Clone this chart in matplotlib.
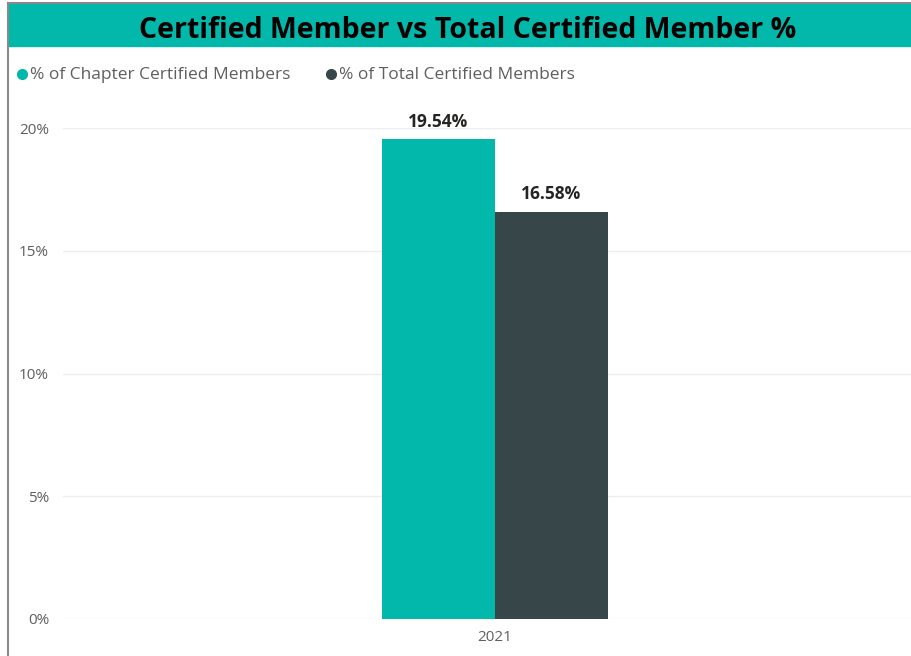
import matplotlib
matplotlib.use("Agg")
import matplotlib.pyplot as plt
from matplotlib.lines import Line2D
from matplotlib.patches import Rectangle

plt.rcParams['font.family'] = ['Open Sans', 'DejaVu Sans']

categories = ['2021']
series_names = ['% of Chapter Certified Members', '% of Total Certified Members']
values = [19.54, 16.58]
colors = ['#01B8AA', '#374649']
yticks = [0, 5, 10, 15, 20]
ytick_labels = ['0%', '5%', '10%', '15%', '20%']

W, H = 911, 656
fig = plt.figure(figsize=(W / 100, H / 100), dpi=100)

# frame + title band
fig.add_artist(Line2D([8 / W, 8 / W], [0, 1 - 3 / H], color='#8a8a8a', lw=1.5))
fig.add_artist(Line2D([8 / W, 1], [1 - 3 / H, 1 - 3 / H], color='#8a8a8a', lw=1.5))
fig.add_artist(Rectangle((9 / W, 1 - 46 / H), 1 - 9 / W, 42 / H,
                         transform=fig.transFigure, color='#01B8AA', zorder=0))
fig.text(468 / W, 1 - 30 / H, 'Certified Member vs Total Certified Member %',
         ha='center', va='center', fontsize=20.5, fontweight='bold', color='#000000')

# legend
lx = [22, 331]
for x, name, c in zip(lx, series_names, colors):
    fig.add_artist(Line2D([x / W], [1 - 74 / H], marker='o', markersize=7,
                          color=c, linestyle='none'))
    fig.text((x + 8) / W, 1 - 75 / H, name, ha='left', va='center',
             fontsize=12.5, color='#605E5C')

ax = fig.add_axes([63 / W, 37 / H, 848 / W, 491 / H])
ax.set_xlim(-0.509, 0.491)
ax.set_ylim(0, 20)
bw = 113 / 848
xs = [-bw / 2, bw / 2]
for x, v, c in zip(xs, values, colors):
    ax.bar(x, v, width=bw, color=c, zorder=3, clip_on=False)
    ax.text(x, v + 0.35, f'{v:.2f}%', ha='center', va='bottom',
            fontsize=12.5, fontweight='bold', color='#252423', clip_on=False)

ax.set_yticks(yticks)
ax.set_yticklabels(ytick_labels, fontsize=11, color='#605E5C')
ax.set_xticks([0])
ax.set_xticklabels(categories, fontsize=11, color='#605E5C')
ax.tick_params(length=0, pad=8)
ax.tick_params(axis='y', pad=10)
ax.grid(axis='y', color='#EDEDED', lw=1)
ax.set_axisbelow(True)
for s in ax.spines.values():
    s.set_visible(False)

fig.savefig('out.png', dpi=100)
